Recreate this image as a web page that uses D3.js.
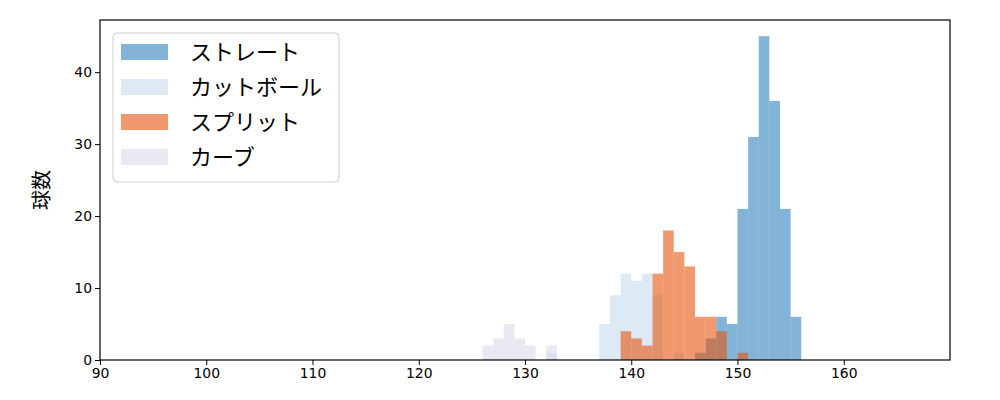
<!DOCTYPE html>
<html><head><meta charset="utf-8">
<script src="https://cdn.jsdelivr.net/npm/d3@7"></script>
<style>body{margin:0;background:#fff;} svg{display:block;font-family:"Noto Sans CJK JP","DejaVu Sans",sans-serif;}</style>
</head><body><svg id="c" width="1000" height="400"></svg>
<script>
const seriesNames = ["ストレート","カットボール","スプリット","カーブ"];
const seriesColors = ["#3182bd","#c6dbef","#e6550d","#dadaeb"];
const binWidth = 1;
const straightStart = 146, straightCounts = [1,3,6,5,21,31,45,36,21,6];
const cutballStart = 132, cutballCounts = [1,0,0,0,0,5,9,12,11,12,9,0,1];
const splitStart = 139, splitCounts = [4,3,2,12,18,15,13,6,6,4,0,1];
const curveStart = 126, curveCounts = [2,3,5,3,2,0,2];
const xTicks = [90,100,110,120,130,140,150,160];
const yTicks = [0,10,20,30,40];

const starts = [straightStart, cutballStart, splitStart, curveStart];
const counts = [straightCounts, cutballCounts, splitCounts, curveCounts];

const svg = d3.select("#c");
const m = {l:100, r:950, t:20, b:360};
const x = d3.scaleLinear().domain([90,170]).range([m.l, m.r]);
const ymax = d3.max(counts.flat()) * 1.05;
const y = d3.scaleLinear().domain([0, ymax]).range([m.b, m.t]);

counts.forEach((cs, si) => {
  const bins = cs.map((c, i) => ({x0: starts[si] + i*binWidth, x1: starts[si] + (i+1)*binWidth, c}));
  svg.append("g").selectAll("rect").data(bins.filter(d => d.c > 0)).join("rect")
    .attr("x", d => x(d.x0)).attr("width", d => x(d.x1) - x(d.x0))
    .attr("y", d => y(d.c)).attr("height", d => y(0) - y(d.c))
    .attr("fill", seriesColors[si]).attr("fill-opacity", 0.6);
});

const xa = svg.append("g").attr("transform", `translate(0,${m.b})`)
  .call(d3.axisBottom(x).tickValues(xTicks).tickSize(5).tickPadding(3));
const ya = svg.append("g").attr("transform", `translate(${m.l},0)`)
  .call(d3.axisLeft(y).tickValues(yTicks).tickSize(5).tickPadding(3));
[xa, ya].forEach(a => {
  a.select(".domain").remove();
  a.selectAll("text").attr("font-size", 13.9).attr("fill", "#000").attr("font-family", "'DejaVu Sans', sans-serif");
  a.selectAll("line").attr("stroke", "#000").attr("stroke-width", 1);
});
svg.append("rect").attr("x", m.l).attr("y", m.t).attr("width", m.r - m.l).attr("height", m.b - m.t)
  .attr("fill", "none").attr("stroke", "#000").attr("stroke-width", 1.2);

svg.append("text").attr("transform", `translate(42,${(m.t+m.b)/2}) rotate(-90)`)
  .attr("text-anchor", "middle").attr("dy", "0.35em").attr("font-size", 20).text("球数");

const lg = svg.append("g").attr("transform", "translate(113,33)");
lg.append("rect").attr("width", 226).attr("height", 149).attr("rx", 4)
  .attr("fill", "#fff").attr("fill-opacity", 0.8).attr("stroke", "#cccccc");
seriesNames.forEach((n, i) => {
  const cy = 19 + i * 35;
  lg.append("rect").attr("x", 8).attr("y", cy - 8).attr("width", 47).attr("height", 16)
    .attr("fill", seriesColors[i]).attr("fill-opacity", 0.6);
  lg.append("text").attr("x", 77).attr("y", cy).attr("dy", "0.35em").attr("font-size", 22).text(n);
});
</script></body></html>
